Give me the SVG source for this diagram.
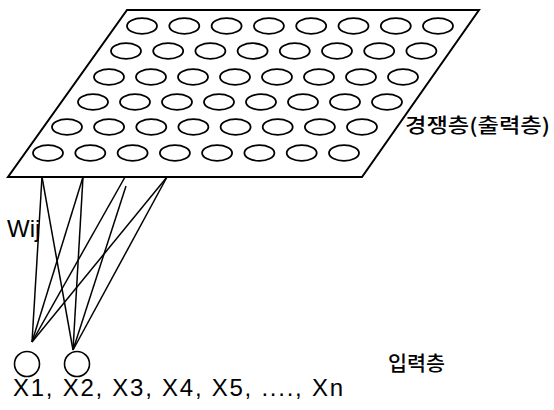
<svg xmlns="http://www.w3.org/2000/svg" width="554" height="410" viewBox="0 0 554 410">
<style>
.pl{fill:none;stroke:#000;stroke-width:2}
.el{fill:none;stroke:#000;stroke-width:1.8}
.ln{stroke:#000;stroke-width:1.5;fill:none}
.nd{fill:#fff;stroke:#000;stroke-width:1.6}
.t{font-family:"Liberation Sans",Arial,sans-serif;fill:#000}
.k{font-family:"Noto Sans CJK KR",sans-serif;fill:#000;font-weight:500}
</style>
<defs>
<ellipse id="e" cx="0" cy="0" rx="15" ry="7.8" class="el"/>
</defs>
<g id="connectors">
<line class="ln" x1="32" y1="342" x2="42" y2="177"/>
<line class="ln" x1="32" y1="342" x2="83" y2="177"/>
<line class="ln" x1="32" y1="342" x2="125" y2="177"/>
<line class="ln" x1="32" y1="342" x2="167" y2="177"/>
<line class="ln" x1="73" y1="350" x2="42" y2="177"/>
<line class="ln" x1="73" y1="350" x2="83" y2="177"/>
<line class="ln" x1="73" y1="350" x2="126" y2="186"/>
<line class="ln" x1="73" y1="350" x2="167" y2="177"/>
</g>
<g id="competitive-layer">
<polygon class="pl" points="127,10 479,10 362,177 8,177"/>
<g id="row1">
<use href="#e" x="142" y="26"/><use href="#e" x="184.3" y="26"/><use href="#e" x="226.6" y="26"/><use href="#e" x="268.9" y="26"/><use href="#e" x="311.2" y="26"/><use href="#e" x="353.5" y="26"/><use href="#e" x="395.8" y="26"/><use href="#e" x="438" y="26"/>
</g>
<g id="row2">
<use href="#e" x="126" y="51"/><use href="#e" x="168.2" y="51"/><use href="#e" x="210.4" y="51"/><use href="#e" x="252.6" y="51"/><use href="#e" x="294.8" y="51"/><use href="#e" x="337" y="51"/><use href="#e" x="379.2" y="51"/><use href="#e" x="421.4" y="51"/>
</g>
<g id="row3">
<use href="#e" x="109" y="77"/><use href="#e" x="151" y="77"/><use href="#e" x="193" y="77"/><use href="#e" x="235" y="77"/><use href="#e" x="277" y="77"/><use href="#e" x="319" y="77"/><use href="#e" x="361" y="77"/><use href="#e" x="403" y="77"/>
</g>
<g id="row4">
<use href="#e" x="93" y="102"/><use href="#e" x="135" y="102"/><use href="#e" x="177" y="102"/><use href="#e" x="219" y="102"/><use href="#e" x="261" y="102"/><use href="#e" x="303" y="102"/><use href="#e" x="345" y="102"/><use href="#e" x="387" y="102"/>
</g>
<g id="row5">
<use href="#e" x="67" y="127"/><use href="#e" x="109.1" y="127"/><use href="#e" x="151.3" y="127"/><use href="#e" x="193.4" y="127"/><use href="#e" x="235.6" y="127"/><use href="#e" x="277.7" y="127"/><use href="#e" x="319.9" y="127"/><use href="#e" x="362" y="127"/>
</g>
<g id="row6">
<use href="#e" x="48" y="153"/><use href="#e" x="90.3" y="153"/><use href="#e" x="132.6" y="153"/><use href="#e" x="174.9" y="153"/><use href="#e" x="217.1" y="153"/><use href="#e" x="259.4" y="153"/><use href="#e" x="301.7" y="153"/><use href="#e" x="344" y="153"/>
</g>
<text class="k" x="405" y="133" font-size="20" textLength="145" lengthAdjust="spacingAndGlyphs">경쟁층(출력층)</text>
</g>
<g id="weights">
<text class="t" x="7" y="237" font-size="24">Wij</text>
</g>
<g id="input-layer">
<circle class="nd" cx="27" cy="364" r="12.5"/>
<circle class="nd" cx="77" cy="364" r="12.5"/>
<text class="t" x="13" y="396" font-size="24" textLength="330">X1, X2, X3, X4, X5, ...., Xn</text>
<text class="k" x="388" y="371" font-size="20" textLength="57" lengthAdjust="spacingAndGlyphs">입력층</text>
</g>
</svg>
